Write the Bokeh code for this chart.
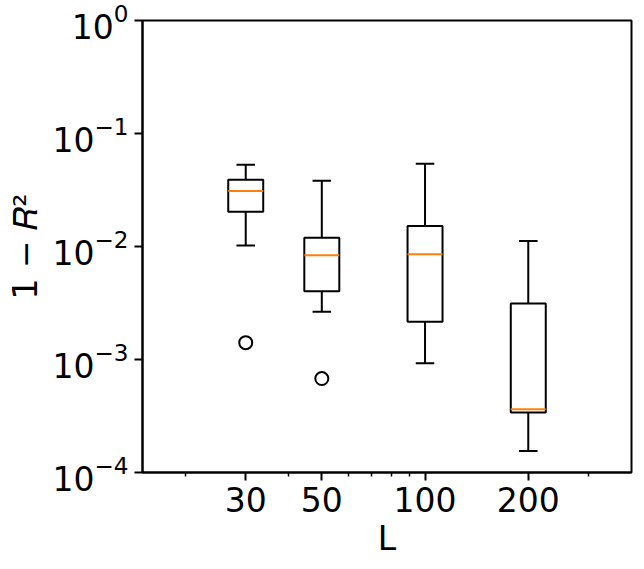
from bokeh.plotting import figure
from bokeh.models import FixedTicker, NumeralTickFormatter, ColumnDataSource, Range1d
from bokeh.embed import file_html
from bokeh.resources import INLINE

# ---- data ----
L = [30, 50, 100, 200]
whisker_low = [0.0102, 0.00265, 0.000926, 0.000155]
q1 = [0.0203, 0.00401, 0.00216, 0.00034]
median = [0.0310, 0.00835, 0.00853, 0.000363]
q3 = [0.0390, 0.01197, 0.01517, 0.00313]
whisker_high = [0.0530, 0.0382, 0.0540, 0.01117]
outlier_L = [30, 50]
outlier_val = [0.00141, 0.000678]

x_major = [30, 50, 100, 200]
x_minor = [20, 40, 60, 70, 80, 90, 300]
y_major = [1e-4, 1e-3, 1e-2, 1e-1, 1e0]

# ---- style ----
BOX_HALF = 10 ** 0.051   # multiplicative half-width on log axis
CAP_HALF = 10 ** 0.027
FONT = "DejaVu Sans"
FS = "33px"

src = ColumnDataSource(dict(
    L=L,
    left=[v / BOX_HALF for v in L],
    right=[v * BOX_HALF for v in L],
    cl=[v / CAP_HALF for v in L],
    cr=[v * CAP_HALF for v in L],
    wl=whisker_low, q1=q1, med=median, q3=q3, wh=whisker_high,
))

p = figure(width=644, height=569, frame_width=489, frame_height=452,
           x_axis_type="log", y_axis_type="log",
           x_range=Range1d(15, 400), y_range=Range1d(1e-4, 1e0),
           output_backend="svg", toolbar_location=None,
           min_border_left=142, min_border_right=13, min_border_top=20, min_border_bottom=97)

p.xgrid.visible = False
p.ygrid.visible = False
p.outline_line_color = "black"
p.outline_line_width = 2
p.background_fill_color = "white"
p.border_fill_color = "white"

# whiskers
p.segment(x0="L", y0="q3", x1="L", y1="wh", source=src, line_color="black", line_width=2)
p.segment(x0="L", y0="wl", x1="L", y1="q1", source=src, line_color="black", line_width=2)
# caps
p.segment(x0="cl", y0="wh", x1="cr", y1="wh", source=src, line_color="black", line_width=2)
p.segment(x0="cl", y0="wl", x1="cr", y1="wl", source=src, line_color="black", line_width=2)
# boxes
p.quad(left="left", right="right", bottom="q1", top="q3", source=src,
       fill_color=None, line_color="black", line_width=2)
# medians
p.segment(x0="left", y0="med", x1="right", y1="med", source=src, line_color="#ff7f0e", line_width=2)
# outliers
p.scatter(outlier_L, outlier_val, marker="circle", size=13, fill_color=None,
          line_color="black", line_width=2)

# axes
xa = p.xaxis[0]
xa.ticker = FixedTicker(ticks=x_major, minor_ticks=x_minor)
xa.formatter = NumeralTickFormatter(format="0")
ya = p.yaxis[0]
ya.ticker = FixedTicker(ticks=y_major, minor_ticks=[])

for ax in (xa, ya):
    ax.axis_line_color = "black"
    ax.axis_line_width = 2
    ax.major_tick_line_color = "black"
    ax.major_tick_line_width = 2
    ax.minor_tick_line_color = "black"
    ax.minor_tick_line_width = 1.5
    ax.major_tick_in = 0
    ax.major_tick_out = 8
    ax.minor_tick_in = 0
    ax.minor_tick_out = 4
    ax.major_label_text_font = FONT
    ax.major_label_text_font_size = FS
    ax.major_label_text_color = "black"
    ax.axis_label_text_font = FONT
    ax.axis_label_text_font_size = FS
    ax.axis_label_text_font_style = "normal"
    ax.axis_label_text_color = "black"

xa.axis_label = "L"
xa.major_label_standoff = 6
xa.axis_label_standoff = 4
ya.axis_label = "1 − 𝑅²"
ya.major_label_standoff = 6
ya.axis_label_standoff = 4

open("out.html", "w").write(file_html(p, INLINE))
